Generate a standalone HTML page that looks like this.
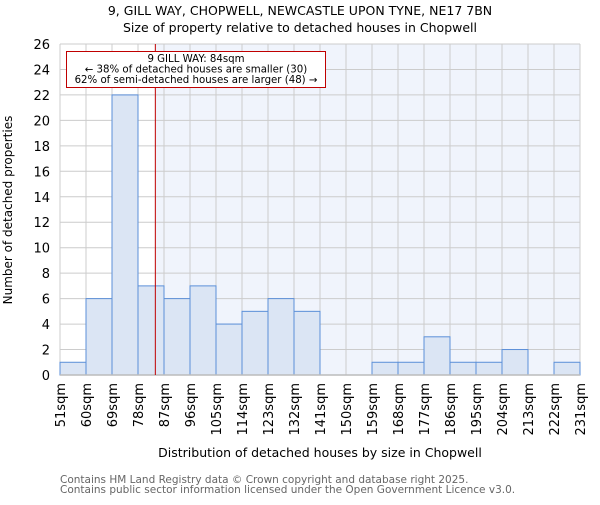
<!DOCTYPE html>
<html><head><meta charset="utf-8"><style>body{margin:0;background:#fff}svg{font-family:"DejaVu Sans","Liberation Sans",sans-serif}</style></head>
<body>
<svg id="c" width="600" height="500">
<text x="300" y="15" text-anchor="middle" font-size="12.5">9, GILL WAY, CHOPWELL, NEWCASTLE UPON TYNE, NE17 7BN</text>
<text x="300" y="32" text-anchor="middle" font-size="12.5">Size of property relative to detached houses in Chopwell</text>
<text transform="translate(12,210) rotate(-90)" text-anchor="middle" font-size="12">Number of detached properties</text>
<text x="320" y="457" text-anchor="middle" font-size="12.5">Distribution of detached houses by size in Chopwell</text>
<text x="60" y="483" font-size="10.5" fill="#666">Contains HM Land Registry data © Crown copyright and database right 2025.</text>
<text x="60" y="493" font-size="10.5" fill="#666">Contains public sector information licensed under the Open Government Licence v3.0.</text>
<g id="plot"></g>
</svg>
<script>
const binStarts=[51,60,69,78,87,96,105,114,123,132,141,150,159,168,177,186,195,204,213,222];
const counts=[1,6,22,7,6,7,4,5,6,5,0,0,1,1,3,1,1,2,0,1];
const xTickLabels=["51sqm","60sqm","69sqm","78sqm","87sqm","96sqm","105sqm","114sqm","123sqm","132sqm","141sqm","150sqm","159sqm","168sqm","177sqm","186sqm","195sqm","204sqm","213sqm","222sqm","231sqm"];
const yTicks=[0,2,4,6,8,10,12,14,16,18,20,22,24,26];
const propertySize=84;
const X0=60,X1=580,Y0=375,Y1=44,xmin=51,xmax=231,ymax=26;
const sx=v=>X0+(v-xmin)/(xmax-xmin)*(X1-X0);
const sy=v=>Y0-v/ymax*(Y0-Y1);
const NS="http://www.w3.org/2000/svg";
const g=document.getElementById('plot');
function mk(t,a){const e=document.createElementNS(NS,t);for(const k in a)e.setAttribute(k,a[k]);g.appendChild(e);return e;}
let e;
e=mk('rect',{x:sx(propertySize),y:Y1,width:X1-sx(propertySize),height:Y0-Y1,fill:'#f0f4fc'});


yTicks.forEach(v=>{e=mk('line',{x1:X0,x2:X1,y1:sy(v),y2:sy(v),stroke:'#ccc','stroke-width':1});


e=mk('text',{x:X0-10,y:sy(v)+5,'text-anchor':'end','font-size':13});e.textContent=v;

});
xTickLabels.forEach((l,i)=>{const x=sx(xmin+9*i);
e=mk('line',{x1:x,x2:x,y1:Y1,y2:Y0,stroke:'#ccc','stroke-width':1});


e=mk('text',{transform:`translate(${x+5},${Y0+8}) rotate(-90)`,'text-anchor':'end','font-size':13});e.textContent=l;

});
binStarts.forEach((b,i)=>{if(!counts[i])return;const x=sx(b),w=sx(b+9)-x;
e=mk('rect',{x:x,y:sy(counts[i]),width:w,height:Y0-sy(counts[i]),fill:'#dbe5f4',stroke:'#5b8fd8','stroke-width':1});

});
e=mk('line',{x1:X0,x2:X1,y1:Y0,y2:Y0,stroke:'#bbb','stroke-width':1.5});


e=mk('line',{x1:sx(propertySize),x2:sx(propertySize),y1:Y1,y2:Y0,stroke:'#c00000','stroke-width':1});


e=mk('rect',{x:66.5,y:51.5,width:259,height:36,fill:'#fff',stroke:'#c00000','stroke-width':1});


[["9 GILL WAY: 84sqm",62],["← 38% of detached houses are smaller (30)",72.5],["62% of semi-detached houses are larger (48) →",83]].forEach(([t,y])=>{
e=mk('text',{x:196,y:y,'text-anchor':'middle','font-size':10.2});e.textContent=t;

});
</script>
</body></html>
